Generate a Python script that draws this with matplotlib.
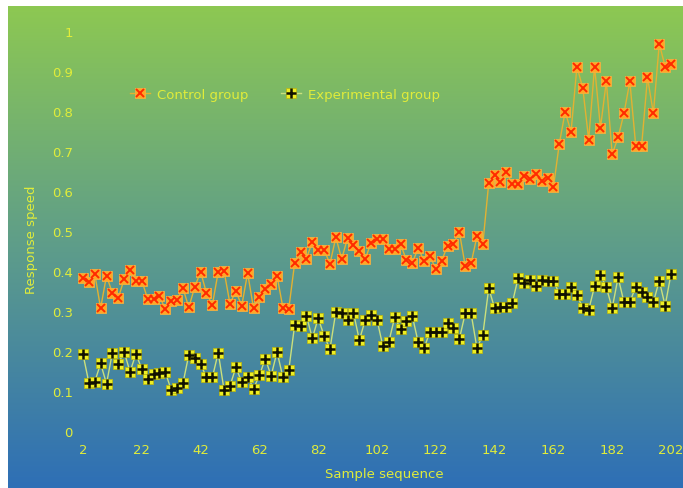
import matplotlib
matplotlib.use("Agg")
import matplotlib.pyplot as plt
import numpy as np
from matplotlib.colors import LinearSegmentedColormap
from matplotlib.lines import Line2D

# sample sequence (every second sample)
sample = list(range(2, 203, 2))

control = [0.383, 0.372, 0.393, 0.307, 0.388, 0.345, 0.332, 0.380, 0.403, 0.376,
           0.376, 0.330, 0.330, 0.337, 0.305, 0.326, 0.328, 0.357, 0.309, 0.360,
           0.398, 0.345, 0.315, 0.398, 0.399, 0.318, 0.350, 0.313, 0.395, 0.307,
           0.334, 0.355, 0.367, 0.388, 0.308, 0.306, 0.420, 0.448, 0.431, 0.473,
           0.452, 0.453, 0.418, 0.484, 0.430, 0.483, 0.466, 0.449, 0.430, 0.471,
           0.479, 0.479, 0.456, 0.456, 0.468, 0.427, 0.420, 0.457, 0.425, 0.437,
           0.405, 0.426, 0.463, 0.468, 0.498, 0.413, 0.419, 0.487, 0.468, 0.620,
           0.641, 0.622, 0.647, 0.618, 0.617, 0.638, 0.630, 0.643, 0.626, 0.632,
           0.609, 0.718, 0.798, 0.748, 0.911, 0.857, 0.728, 0.911, 0.758, 0.874,
           0.692, 0.734, 0.794, 0.874, 0.713, 0.713, 0.884, 0.794, 0.968, 0.911,
           0.918]

experimental = [0.192, 0.121, 0.123, 0.169, 0.118, 0.196, 0.168, 0.198, 0.148, 0.193,
                0.155, 0.131, 0.143, 0.146, 0.147, 0.103, 0.107, 0.119, 0.191, 0.182,
                0.167, 0.134, 0.134, 0.196, 0.102, 0.113, 0.159, 0.122, 0.136, 0.106,
                0.139, 0.181, 0.138, 0.198, 0.134, 0.153, 0.265, 0.263, 0.288, 0.232,
                0.282, 0.238, 0.205, 0.298, 0.296, 0.277, 0.296, 0.227, 0.278, 0.289,
                0.278, 0.212, 0.222, 0.284, 0.256, 0.274, 0.288, 0.222, 0.207, 0.248,
                0.248, 0.248, 0.269, 0.258, 0.230, 0.294, 0.294, 0.207, 0.241, 0.357,
                0.307, 0.309, 0.309, 0.319, 0.383, 0.369, 0.377, 0.363, 0.377, 0.376,
                0.376, 0.343, 0.342, 0.361, 0.339, 0.308, 0.303, 0.362, 0.390, 0.359,
                0.307, 0.384, 0.322, 0.322, 0.361, 0.347, 0.335, 0.322, 0.376, 0.313,
                0.393]

xticks = [2, 22, 42, 62, 82, 102, 122, 142, 162, 182, 202]
yticks = [0, 0.1, 0.2, 0.3, 0.4, 0.5, 0.6, 0.7, 0.8, 0.9, 1]
ytick_labels = ["0", "0.1", "0.2", "0.3", "0.4", "0.5", "0.6", "0.7", "0.8", "0.9", "1"]

txt = "#E0EC3A"
plt.rcParams["font.family"] = ["DejaVu Sans"]
plt.rcParams["font.size"] = 9.5

fig = plt.figure(figsize=(6.83, 4.89), dpi=100)
fig.patch.set_facecolor("white")

# green-to-blue background
bg = fig.add_axes([8 / 683, 0, 1 - 8 / 683, 482 / 489])
cmap = LinearSegmentedColormap.from_list("bg", ["#2E6FB6", "#5E9D8A", "#8DC852"])
grad = np.linspace(0, 1, 256).reshape(-1, 1)
bg.imshow(grad, aspect="auto", cmap=cmap, origin="lower", extent=[0, 1, 0, 1])
bg.set_axis_off()

ax = fig.add_axes([77.1 / 683, 57 / 489, 599.8 / 683, 400 / 489])
ax.set_facecolor("none")
ax.set_xlim(0, 204)
ax.set_ylim(0, 1)

# control group: orange square with red cross
ax.plot(sample, control, color="#E2B232", lw=1, zorder=3)
ax.plot(sample, control, ls="none", marker="s", ms=7.5, mfc="#FFA726",
        mec="#F5B040", mew=0.6, zorder=4)
ax.plot(sample, control, ls="none", marker="x", ms=5.5, mec="#FF2A00",
        mew=1.4, zorder=5)

# experimental group: yellow square with black plus
ax.plot(sample, experimental, color="#CBE07C", lw=1, zorder=3)
ax.plot(sample, experimental, ls="none", marker="s", ms=7.5, mfc="#EEEE22",
        mec="#B8B818", mew=0.6, zorder=4)
ax.plot(sample, experimental, ls="none", marker="+", ms=7.5, mec="#111100",
        mew=1.8, zorder=5)

ax.set_xticks(xticks)
ax.set_yticks(yticks)
ax.set_yticklabels(ytick_labels)
ax.tick_params(axis="both", length=0, colors=txt)
ax.tick_params(axis="x", pad=9)
ax.tick_params(axis="y", pad=3)
for s in ax.spines.values():
    s.set_visible(False)

ax.set_xlabel("Sample sequence", color=txt)
ax.xaxis.set_label_coords(0.513, -0.09)
ax.set_ylabel("Response speed", color=txt)
ax.yaxis.set_label_coords(-0.066, 0.48)

h_ctrl = (Line2D([], [], color="#E2B232", lw=1),
          Line2D([], [], ls="none", marker="s", ms=7.5, mfc="#FFA726", mec="#F5B040", mew=0.6),
          Line2D([], [], ls="none", marker="x", ms=5.5, mec="#FF2A00", mew=1.4))
h_exp = (Line2D([], [], color="#CBE07C", lw=1),
         Line2D([], [], ls="none", marker="s", ms=7.5, mfc="#EEEE22", mec="#B8B818", mew=0.6),
         Line2D([], [], ls="none", marker="+", ms=7.5, mec="#111100", mew=1.8))
leg = fig.legend([h_ctrl, h_exp], ["Control group", "Experimental group"],
                 loc="center left", bbox_to_anchor=(130 / 683, 1 - 95 / 489),
                 ncol=2, frameon=False, handlelength=1.5, handletextpad=0.55,
                 columnspacing=2.5, borderpad=0, borderaxespad=0)
for t in leg.get_texts():
    t.set_color(txt)

fig.savefig("out.png", dpi=100)
